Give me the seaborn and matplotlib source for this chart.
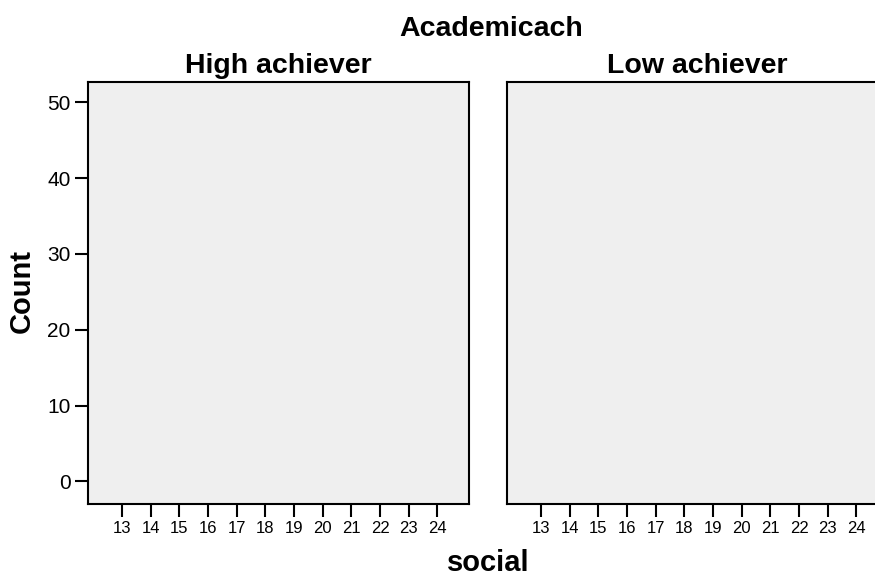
import matplotlib
matplotlib.use("Agg")
import matplotlib.pyplot as plt
import seaborn as sns
import pandas as pd

sns.set_theme(style="white")
plt.rcParams['font.family'] = ['Liberation Sans', 'DejaVu Sans']
plt.rcParams['text.color'] = 'black'
plt.rcParams['xtick.color'] = 'black'
plt.rcParams['ytick.color'] = 'black'

# data: social score categories, counts per group (panels are empty)
social = [13, 14, 15, 16, 17, 18, 19, 20, 21, 22, 23, 24]
high_counts = [0, 0, 0, 0, 0, 0, 0, 0, 0, 0, 0, 0]
low_counts = [0, 0, 0, 0, 0, 0, 0, 0, 0, 0, 0, 0]
groups = ["High achiever", "Low achiever"]
y_ticks = [0, 10, 20, 30, 40, 50]

fig = plt.figure(figsize=(8.75, 5.78), dpi=100)
ax1 = fig.add_axes([88 / 875, 74 / 578, 381 / 875, 422 / 578])
ax2 = fig.add_axes([507 / 875, 74 / 578, 381 / 875, 422 / 578])

for ax, name, counts in zip([ax1, ax2], groups, [high_counts, low_counts]):
    df = pd.DataFrame({"social": social, "count": counts})
    sns.barplot(data=df, x="social", y="count", order=social, color="#3E58AC",
                linewidth=0, ax=ax)
    ax.set_facecolor("#EFEFEF")
    ax.set_xlim(-1.18, 12.1)
    ax.set_ylim(-3.0, 52.7)
    ax.set_yticks(y_ticks)
    ax.text(0.5, 1 + 9 / 422, name, transform=ax.transAxes, ha="center",
            va="baseline", fontsize=20.5, fontweight="bold")
    ax.set_xlabel("")
    ax.set_ylabel("")
    for s in ax.spines.values():
        s.set_visible(True)
        s.set_color("black")
        s.set_linewidth(1.5)
    ax.tick_params(axis="x", bottom=True, length=9.5, width=1.5, labelsize=12,
                   pad=3)
    ax.tick_params(axis="y", left=True, length=9.5, width=1.5, labelsize=15,
                   pad=3)

ax2.tick_params(axis="y", left=False, labelleft=False)

fig.text(491 / 875, 1 - 36 / 578, "Academicach", ha="center", va="baseline",
         fontsize=20.5, fontweight="bold")
fig.text(488 / 875, 1 - 571 / 578, "social", ha="center", va="baseline",
         fontsize=21, fontweight="bold")
fig.text(22 / 875, 1 - 291 / 578, "Count", ha="center", va="center",
         rotation=90, fontsize=21, fontweight="bold")

plt.savefig("out.png", dpi=100)
plt.close()
